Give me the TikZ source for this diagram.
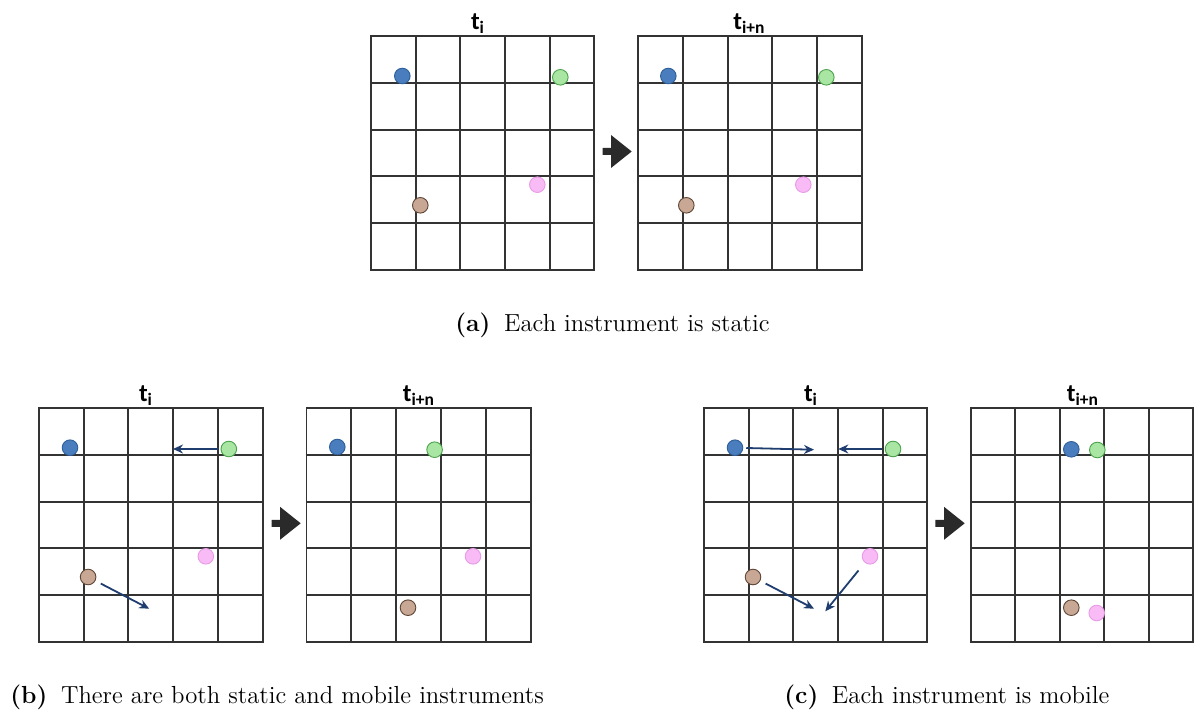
\documentclass[tikz,border=0pt]{standalone}
\usepackage{fontspec}
\newfontfamily\titlefont{Carlito}
\usetikzlibrary{arrows.meta}
\definecolor{gridc}{HTML}{333333}
\definecolor{blueF}{HTML}{4A7DBE}
\definecolor{blueD}{HTML}{2F5F9A}
\definecolor{greenF}{HTML}{A9E5A3}
\definecolor{greenD}{HTML}{4AA24A}
\definecolor{pinkF}{HTML}{F8BBF5}
\definecolor{pinkD}{HTML}{E79BE6}
\definecolor{brownF}{HTML}{C8A894}
\definecolor{brownD}{HTML}{5E4637}
\definecolor{navy}{HTML}{1F3D6F}
\definecolor{blockc}{HTML}{2A2A2A}
\tikzset{
  gridline/.style={draw=gridc, line width=0.95pt},
  dot/.style={circle, minimum size=7.8pt, inner sep=0pt, line width=0.45pt},
  bdot/.style={dot, fill=blueF, draw=blueD},
  gdot/.style={dot, fill=greenF, draw=greenD},
  pdot/.style={dot, fill=pinkF, draw=pinkD},
  ndot/.style={dot, fill=brownF, draw=brownD},
  move/.style={draw=navy, line width=0.9pt, shorten <=1.5pt, -{Stealth[length=5pt,width=4.5pt]}},
  ttl/.style={anchor=base, inner sep=0pt, font=\titlefont\bfseries\fontsize{12.5}{14}\selectfont},
  capt/.style={anchor=base west, inner sep=0pt, font=\fontsize{12.35}{15}\selectfont},
  blockarrow/.style={fill=blockc}
}
\newcommand\drawgridbox[4]{%
  \draw[gridline] (#1,#2) rectangle (#3,#4);
  \foreach \k in {1,...,4}{%
    \draw[gridline] ({#1+\k*(#3-#1)/5},#2) -- ({#1+\k*(#3-#1)/5},#4);
    \draw[gridline] (#1,{#2+\k*(#4-#2)/5}) -- (#3,{#2+\k*(#4-#2)/5});
  }%
}
\newcommand\blockarr[3]{% x-left, x-stemend, y-tip ; fixed size
  \fill[blockarrow] (#1,{#3-3.5}) -- (#2,{#3-3.5}) -- (#2,{#3-16.5}) -- ({#2+20.7},#3) -- (#2,{#3+16.5}) -- (#2,{#3+3.5}) -- (#1,{#3+3.5}) -- cycle;
}
\begin{document}
\begin{tikzpicture}[x=0.5pt,y=-0.5pt]
\useasboundingbox (0,0) rectangle (1194,711);
% ---------- (a) ----------
\node[ttl] (ta1) at (478,29.5) {t\textsubscript{i}};
\node[ttl] (ta2) at (749.5,29.5) {t\textsubscript{i+n}};
\drawgridbox{371}{36}{594.3}{270}
\drawgridbox{638.3}{36}{861.7}{270}
\blockarr{602.7}{611}{151.5}
\node[bdot] (a1b) at (402.3,76) {};
\node[gdot] (a1g) at (560.3,77.3) {};
\node[pdot] (a1p) at (537.3,184.7) {};
\node[ndot] (a1n) at (420.3,205.3) {};
\node[bdot] (a2b) at (668.3,76) {};
\node[gdot] (a2g) at (826.3,77.3) {};
\node[pdot] (a2p) at (803.3,184.7) {};
\node[ndot] (a2n) at (686.3,205.3) {};
\node[capt] (capa) at (455,331) {\textbf{(a)}\hspace{0.55em}Each instrument is static};
% ---------- (b) ----------
\node[ttl] (tb1) at (146,401.7) {t\textsubscript{i}};
\node[ttl] (tb2) at (419,401.7) {t\textsubscript{i+n}};
\drawgridbox{38.8}{408.3}{262.7}{641.7}
\drawgridbox{306.5}{408.3}{530.8}{641.7}
\blockarr{271.5}{280}{523.3}
\node[bdot] (b1b) at (70,447.7) {};
\node[gdot] (b1g) at (228.8,449) {};
\node[pdot] (b1p) at (205.8,556.3) {};
\node[ndot] (b1n) at (88.1,577) {};
\coordinate (b1ge) at (173,449);
\coordinate (b1ne) at (149.2,608.7);
\draw[move] (b1g) -- (b1ge);
\draw[move, shorten <=3pt] (b1n) -- (b1ne);
\node[bdot] (b2b) at (337.3,447) {};
\node[gdot] (b2g) at (434.6,449.7) {};
\node[pdot] (b2p) at (473,556.3) {};
\node[ndot] (b2n) at (408,607.7) {};
\node[capt] (capb) at (10,703) {\textbf{(b)}\hspace{0.55em}There are both static and mobile instruments};
% ---------- (c) ----------
\node[ttl] (tc1) at (811,401.7) {t\textsubscript{i}};
\node[ttl] (tc2) at (1083,401.7) {t\textsubscript{i+n}};
\drawgridbox{704}{408.3}{927.3}{641.7}
\drawgridbox{971}{408.3}{1193}{641.7}
\blockarr{935.3}{944}{523.3}
\node[bdot] (c1b) at (735,447.7) {};
\node[gdot] (c1g) at (893,449) {};
\node[pdot] (c1p) at (870,556.3) {};
\node[ndot] (c1n) at (753,577) {};
\coordinate (c1be) at (814,449.7);
\coordinate (c1ge) at (838.3,449);
\coordinate (c1ne) at (814,608.7);
\coordinate (c1pe) at (825.3,611.3);
\draw[move] (c1b) -- (c1be);
\draw[move] (c1g) -- (c1ge);
\draw[move, shorten <=3pt] (c1n) -- (c1ne);
\draw[move, shorten <=5pt] (c1p) -- (c1pe);
\node[bdot] (c2b) at (1071.3,449.3) {};
\node[gdot] (c2g) at (1097.3,450) {};
\node[ndot] (c2n) at (1071.3,607.7) {};
\node[pdot] (c2p) at (1096.7,613) {};
\node[capt] (capc) at (784,703) {\textbf{(c)}\hspace{0.55em}Each instrument is mobile};
\end{tikzpicture}
\end{document}
